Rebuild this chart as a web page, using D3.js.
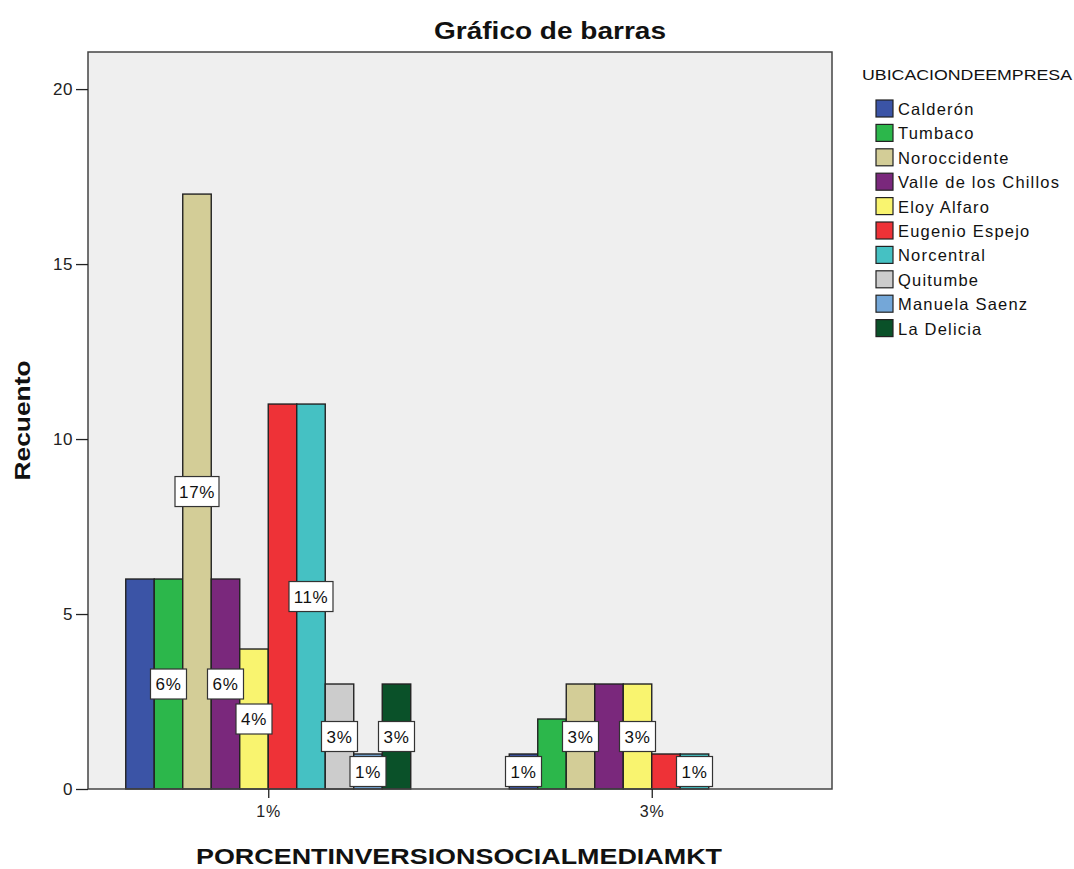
<!DOCTYPE html>
<html>
<head>
<meta charset="utf-8">
<script src="https://cdn.jsdelivr.net/npm/d3@7"></script>
<style>
  body { margin: 0; background: #fff; }
  text { font-family: Arial, "Liberation Sans", sans-serif; }
</style>
</head>
<body>
<svg id="chart"></svg>
<script>
const categories = ["1%", "3%"]
const series = ["Calderón", "Tumbaco", "Noroccidente", "Valle de los Chillos", "Eloy Alfaro",
    "Eugenio Espejo", "Norcentral", "Quitumbe", "Manuela Saenz", "La Delicia"]
const colors = ["#3b54a6", "#2cb74b", "#d3cd97", "#7a287c", "#f9f46f",
    "#ee3237", "#45c1c3", "#cccccc", "#74a7d8", "#0a5129"]
// counts per series, [1%, 3%]
const counts = [
    [6, 1], [6, 2], [17, 3], [6, 3], [4, 3],
    [11, 1], [11, 1], [3, 0], [1, 0], [3, 0]
]
// bar labels shown in the picture (null = no label)
const labels = [
    [null, "1%"], ["6%", null], ["17%", "3%"], ["6%", null], ["4%", "3%"],
    [null, null], ["11%", "1%"], ["3%", null], ["1%", null], ["3%", null]
]
const yTicks = [0, 5, 10, 15, 20]

const width = 1074, height = 869
const m = { left: 88, top: 52, right: 832, bottom: 789 }

const svg = d3.select("#chart").attr("width", width).attr("height", height)

const x = d3.scalePoint().domain(categories).range([m.left, m.right]).padding(0.47)
const groupWidth = 285
const xs = d3.scaleBand().domain(series).range([-groupWidth / 2, groupWidth / 2])
const y = d3.scaleLinear().domain([0, 21.06]).range([m.bottom, m.top])

// plot background
svg.append("rect")
    .attr("x", m.left).attr("y", m.top)
    .attr("width", m.right - m.left).attr("height", m.bottom - m.top)
    .attr("fill", "#efefef")

// bars
const bars = []
series.forEach((s, i) => {
    categories.forEach((c, j) => {
        bars.push({ s, i, c, v: counts[i][j], label: labels[i][j] })
    })
})

svg.append("g").selectAll("rect")
    .data(bars.filter(d => d.v > 0))
    .join("rect")
    .attr("x", d => x(d.c) + xs(d.s))
    .attr("y", d => y(d.v))
    .attr("width", xs.bandwidth())
    .attr("height", d => y(0) - y(d.v))
    .attr("fill", d => colors[d.i])
    .attr("stroke", "#222")
    .attr("stroke-width", 1.4)

// labels
const lab = svg.append("g").selectAll("g")
    .data(bars.filter(d => d.label))
    .join("g")
    .attr("transform", d => `translate(${x(d.c) + xs(d.s) + xs.bandwidth() / 2},${y(d.v / 2)})`)

lab.append("rect")
    .attr("x", d => d.label.length > 2 ? -22 : -18)
    .attr("width", d => d.label.length > 2 ? 44 : 36)
    .attr("y", -15).attr("height", 30)
    .attr("fill", "#fff")
    .attr("stroke", "#333")
    .attr("stroke-width", 1.2)

lab.append("text")
    .attr("text-anchor", "middle")
    .attr("dy", "0.36em")
    .attr("font-size", 17)
    .attr("letter-spacing", 0.6)
    .attr("fill", "#111")
    .text(d => d.label)

// frame
svg.append("rect")
    .attr("x", m.left).attr("y", m.top)
    .attr("width", m.right - m.left).attr("height", m.bottom - m.top)
    .attr("fill", "none")
    .attr("stroke", "#444")
    .attr("stroke-width", 1.5)

// y axis
const yAxis = svg.append("g")
    .attr("transform", `translate(${m.left},0)`)
    .call(d3.axisLeft(y).tickValues(yTicks).tickSize(12).tickPadding(3))
yAxis.select(".domain").remove()
yAxis.selectAll("line").attr("stroke", "#222").attr("stroke-width", 1.3)
yAxis.selectAll("text").attr("font-size", 17).attr("fill", "#222").attr("letter-spacing", 0.5)
    .style("font-family", "Arial, 'Liberation Sans', sans-serif")

// x axis
const xAxis = svg.append("g")
    .attr("transform", `translate(0,${m.bottom})`)
    .call(d3.axisBottom(x).tickSize(9).tickPadding(8))
xAxis.select(".domain").remove()
xAxis.selectAll("line").attr("stroke", "#222").attr("stroke-width", 1.3)
xAxis.selectAll("text").attr("font-size", 16).attr("fill", "#222").attr("letter-spacing", 1)
    .style("font-family", "Arial, 'Liberation Sans', sans-serif")

// titles
svg.append("text")
    .attr("x", 550).attr("y", 39)
    .attr("text-anchor", "middle")
    .attr("font-size", 23).attr("font-weight", "bold").attr("fill", "#111")
    .attr("textLength", 232).attr("lengthAdjust", "spacingAndGlyphs")
    .text("Gráfico de barras")

svg.append("text")
    .attr("x", 459).attr("y", 864)
    .attr("text-anchor", "middle")
    .attr("font-size", 22).attr("font-weight", "bold").attr("fill", "#111")
    .attr("textLength", 526).attr("lengthAdjust", "spacingAndGlyphs")
    .text("PORCENTINVERSIONSOCIALMEDIAMKT")

svg.append("text")
    .attr("transform", `translate(30,${(m.top + m.bottom) / 2}) rotate(-90)`)
    .attr("text-anchor", "middle")
    .attr("font-size", 22.5).attr("font-weight", "bold").attr("fill", "#111")
    .attr("textLength", 120).attr("lengthAdjust", "spacingAndGlyphs")
    .text("Recuento")

// legend
const legend = svg.append("g").attr("transform", "translate(862,0)")
legend.append("text")
    .attr("x", 0).attr("y", 80)
    .attr("font-size", 15).attr("fill", "#111")
    .attr("textLength", 210).attr("lengthAdjust", "spacingAndGlyphs")
    .text("UBICACIONDEEMPRESA")

const item = legend.selectAll("g.item")
    .data(series)
    .join("g")
    .attr("class", "item")
    .attr("transform", (d, i) => `translate(14,${100 + i * 24.4})`)

item.append("rect")
    .attr("width", 17).attr("height", 17)
    .attr("fill", (d, i) => colors[i])
    .attr("stroke", "#222").attr("stroke-width", 1.2)

item.append("text")
    .attr("x", 22).attr("y", 15)
    .attr("font-size", 16.5).attr("letter-spacing", 1.2).attr("fill", "#111")
    .text(d => d)
</script>
</body>
</html>
